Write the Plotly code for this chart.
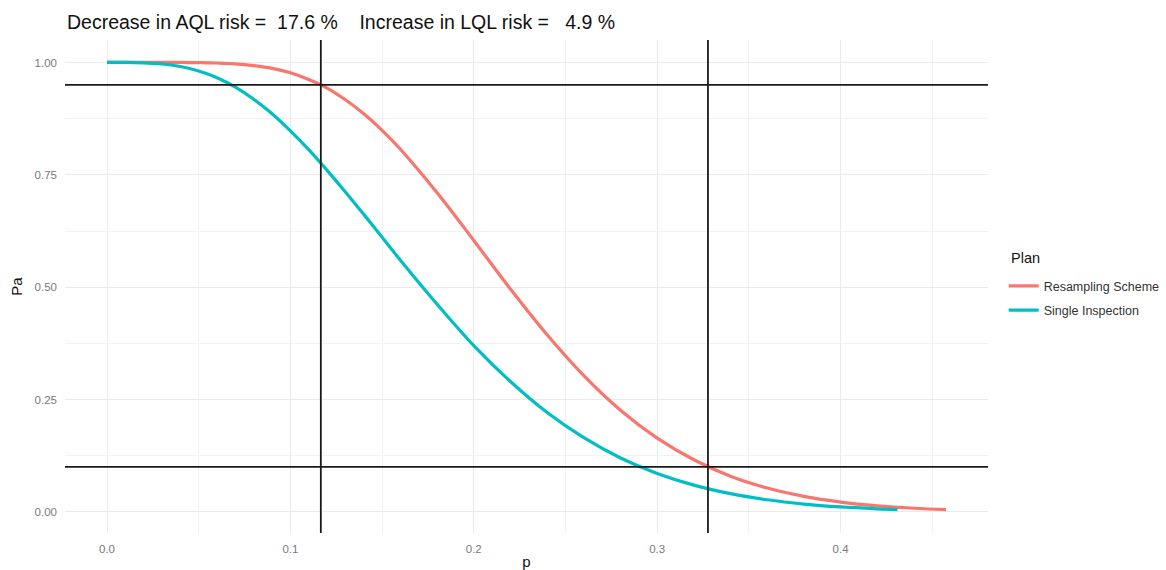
import plotly.graph_objects as go

# Operating characteristic curves
p_single = [0.00, 0.01, 0.02, 0.03, 0.04, 0.05, 0.06, 0.07, 0.08, 0.09, 0.10, 0.11, 0.12,
            0.13, 0.14, 0.15, 0.16, 0.18, 0.20, 0.22, 0.24, 0.26, 0.28, 0.30, 0.32,
            0.34, 0.36, 0.38, 0.40, 0.42, 0.431]
pa_single = [1.000, 1.000, 0.999, 0.997, 0.991, 0.981, 0.966, 0.945, 0.918, 0.886, 0.848, 0.806, 0.760,
             0.712, 0.662, 0.611, 0.560, 0.462, 0.370, 0.290, 0.221, 0.165, 0.120, 0.0856, 0.0596,
             0.0405, 0.0269, 0.0174, 0.0110, 0.0068, 0.0051]

p_resample = [0.00, 0.01, 0.02, 0.03, 0.04, 0.05, 0.06, 0.07, 0.08, 0.09, 0.10, 0.11, 0.12,
              0.13, 0.14, 0.15, 0.16, 0.18, 0.20, 0.22, 0.24, 0.26, 0.28, 0.30, 0.32,
              0.34, 0.36, 0.38, 0.40, 0.42, 0.44, 0.4575]
pa_resample = [1.000, 1.000, 1.000, 1.000, 1.000, 0.9996, 0.9988, 0.997, 0.993, 0.987, 0.977, 0.962, 0.943,
               0.917, 0.886, 0.849, 0.807, 0.710, 0.604, 0.496, 0.394, 0.303, 0.226, 0.164, 0.116,
               0.0793, 0.0530, 0.0346, 0.0219, 0.0135, 0.0081, 0.0050]

plan_names = ["Resampling Scheme", "Single Inspection"]
plan_colors = ["#F8766D", "#00BFC4"]
legend_title = "Plan"

aql = 0.1166
lql = 0.3277
pa_levels = [0.95, 0.10]

title_text = ("Decrease in AQL risk =\u00a0\u00a017.6 %\u00a0\u00a0\u00a0\u00a0"
              "Increase in LQL risk =\u00a0\u00a0\u00a04.9 %")

x_ticks = [0.0, 0.1, 0.2, 0.3, 0.4]
x_tick_labels = ["0.0", "0.1", "0.2", "0.3", "0.4"]
y_ticks = [0.0, 0.25, 0.5, 0.75, 1.0]
y_tick_labels = ["0.00", "0.25", "0.50", "0.75", "1.00"]

fig = go.Figure()

fig.add_trace(go.Scatter(x=p_resample, y=pa_resample, mode="lines", name=plan_names[0],
                         legendgroup="a",
                         line=dict(color=plan_colors[0], width=3.2, shape="spline", smoothing=1)))
fig.add_trace(go.Scatter(x=p_single, y=pa_single, mode="lines", name=plan_names[1],
                         legendgroup="b",
                         line=dict(color=plan_colors[1], width=3.2, shape="spline", smoothing=1)))

for v in [aql, lql]:
    fig.add_vline(x=v, line=dict(color="#1a1a1a", width=1.8), layer="above")
for h in pa_levels:
    fig.add_hline(y=h, line=dict(color="#1a1a1a", width=1.8), layer="above")

font_family = "Liberation Sans, Arial, sans-serif"

fig.update_layout(
    width=1166, height=570,
    paper_bgcolor="white", plot_bgcolor="white",
    margin=dict(l=65, r=178, t=40, b=37, autoexpand=False),
    font=dict(family=font_family, color="#222222"),
    title=dict(text=title_text, x=67 / 1166, xref="container", xanchor="left",
               y=1 - 22 / 570, yref="container", yanchor="middle",
               font=dict(size=19.5, color="#111111", family=font_family)),
    legend=dict(x=1.017, xanchor="left", y=0.476, yanchor="middle",
                font=dict(size=12.5, color="#333333"),
                bgcolor="rgba(0,0,0,0)", itemwidth=30, tracegroupgap=5),
    showlegend=True,
)

fig.add_annotation(text=legend_title, xref="paper", yref="paper", x=1.0225, y=0.558,
                   xanchor="left", yanchor="middle", showarrow=False,
                   font=dict(size=14.5, color="#111111", family=font_family))

fig.update_xaxes(
    range=[-0.0229, 0.4804], tickvals=x_ticks, ticktext=x_tick_labels,
    showgrid=True, gridcolor="#EBEBEB", gridwidth=1.1, zeroline=False,
    showline=False, ticks="", ticklabelstandoff=7, automargin=False,
    tickfont=dict(size=11.5, color="#7a7a7a"),
    minor=dict(dtick=0.05, tick0=0, showgrid=True, gridcolor="#F2F2F2", gridwidth=0.8),
    title=dict(text="p", font=dict(size=15, color="#111111"), standoff=6),
)
fig.update_yaxes(
    range=[-0.047, 1.05], tickvals=y_ticks, ticktext=y_tick_labels,
    showgrid=True, gridcolor="#EBEBEB", gridwidth=1.1, zeroline=False,
    showline=False, ticks="", ticklabelstandoff=7, automargin=False,
    tickfont=dict(size=11.5, color="#7a7a7a"),
    minor=dict(dtick=0.125, tick0=0, showgrid=True, gridcolor="#F2F2F2", gridwidth=0.8),
    title=dict(text="Pa", font=dict(size=15, color="#111111"), standoff=8),
)

fig.write_html("out.html")
